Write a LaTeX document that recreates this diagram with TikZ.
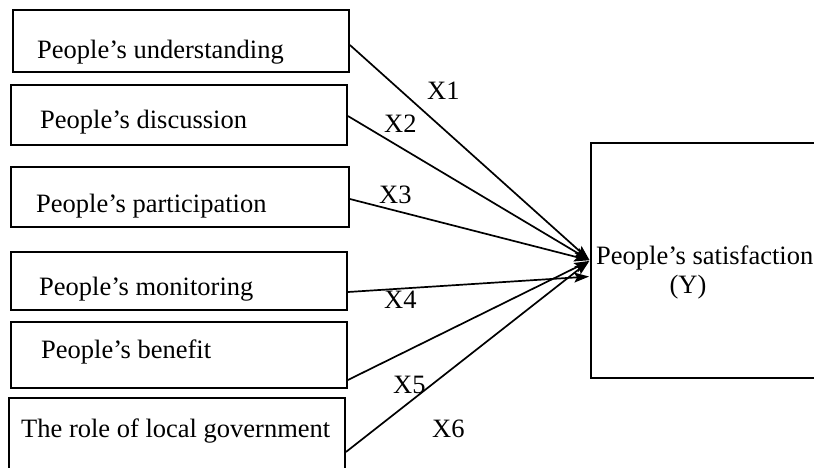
\documentclass[tikz,border=0pt]{standalone}
\usepackage{fontspec}
\setmainfont{Liberation Serif}
\usetikzlibrary{arrows.meta}
\begin{document}
\begin{tikzpicture}[x=1pt,y=-1pt,
  box/.style={draw,line width=1.8pt,inner sep=0pt,minimum width=336pt},
  txt/.style={inner sep=0pt,anchor=base west,font=\fontsize{26.5}{30}\selectfont},
  conn/.style={line width=1.7pt,-{Stealth[length=15pt,width=10pt,inset=3pt]},shorten >=1pt}]
\clip (0,0) rectangle (814,467);
% boxes
\node[box,minimum height=62pt] (b1) at (181,41) {};
\node[box,minimum height=60pt] (b2) at (179,115) {};
\node[box,minimum height=60pt,minimum width=338pt] (b3) at (180,197) {};
\node[box,minimum height=58pt] (b4) at (179,281) {};
\node[box,minimum height=66pt] (b5) at (179,355) {};
\node[box,minimum height=92pt] (b6) at (177,444) {};
\node[box,minimum height=235pt,minimum width=249pt] (Y) at (715.5,260.5) {};
% texts
\node[txt] (t1) at (37,58) {People’s understanding};
\node[txt] (t2) at (40,128) {People’s discussion};
\node[txt] (t3) at (36,212) {People’s participation};
\node[txt] (t4) at (39,295) {People’s monitoring};
\node[txt] (t5) at (41,358) {People’s benefit};
\node[txt] (t6) at (21,437) {The role of local government};
\node[txt] (ty1) at (596,264) {People’s satisfaction};
\node[txt,anchor=base] (ty2) at (688,293) {(Y)};
% labels
\node[txt] (x1) at (427,99) {X1};
\node[txt] (x2) at (384,132) {X2};
\node[txt] (x3) at (379,203) {X3};
\node[txt] (x4) at (384,308) {X4};
\node[txt] (x5) at (393,393) {X5};
\node[txt] (x6) at (432,437) {X6};
% connectors
\draw[conn] ([yshift=-4pt]b1.east) -- (Y.west);
\draw[conn] ([yshift=-1pt]b2.east) -- (Y.west);
\draw[conn] ([yshift=-2pt]b3.east) -- (Y.west);
\draw[conn] ([yshift=-11pt]b4.east) -- ([yshift=-16pt]Y.west);
\draw[conn] ([yshift=-25pt]b5.east) -- (Y.west);
\draw[conn] ([yshift=-8pt]b6.east) -- (Y.west);
\end{tikzpicture}
\end{document}
